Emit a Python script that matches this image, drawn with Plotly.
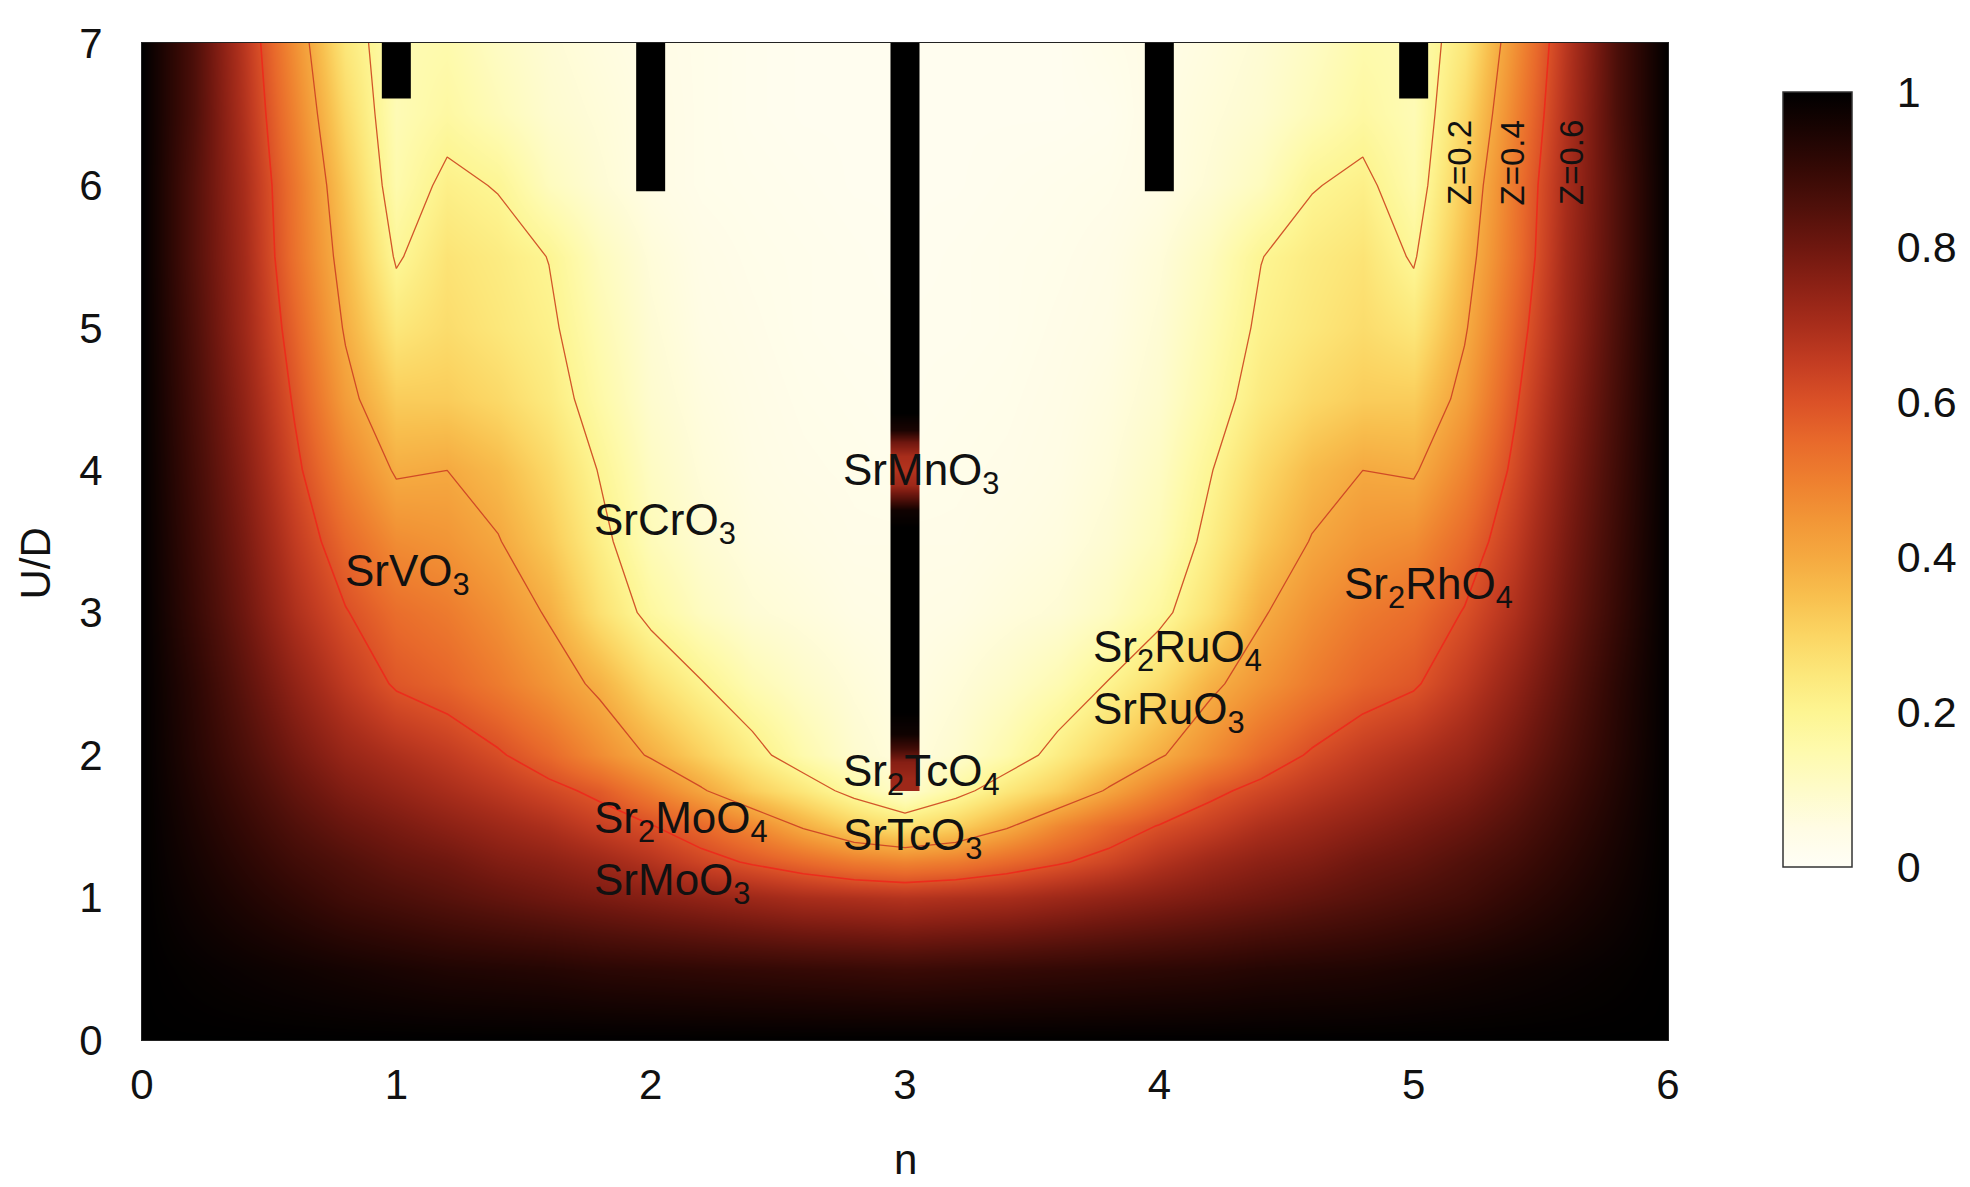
import plotly.graph_objects as go

# ---------------- data ----------------
n_vals = [0.0, 0.2, 0.4, 0.6, 0.8, 1.0, 1.2, 1.4, 1.6, 1.8, 2.0, 2.2, 2.4, 2.6, 2.8, 3.0,
          3.2, 3.4, 3.6, 3.8, 4.0, 4.2, 4.4, 4.6, 4.8, 5.0, 5.2, 5.4, 5.6, 5.8, 6.0]
U_vals = [0.0, 0.5, 1.0, 1.25, 1.5, 1.75, 2.0, 2.5, 3.0, 3.5, 4.0, 4.5, 5.0, 5.5, 6.0, 6.5, 7.0]

Z_U0_0 = [1.00, 1.00, 1.00, 1.00, 1.00, 1.00, 1.00, 1.00, 1.00, 1.00, 1.00, 1.00, 1.00, 1.00, 1.00, 1.00,
          1.00, 1.00, 1.00, 1.00, 1.00, 1.00, 1.00, 1.00, 1.00, 1.00, 1.00, 1.00, 1.00, 1.00, 1.00]
Z_U0_5 = [1.00, 0.99, 0.98, 0.97, 0.96, 0.95, 0.94, 0.935, 0.93, 0.92, 0.915, 0.91, 0.905, 0.90, 0.895, 0.89,
          0.895, 0.90, 0.905, 0.91, 0.915, 0.92, 0.93, 0.935, 0.94, 0.95, 0.96, 0.97, 0.98, 0.99, 1.00]
Z_U1_0 = [1.00, 0.97, 0.94, 0.91, 0.88, 0.86, 0.84, 0.82, 0.80, 0.78, 0.76, 0.74, 0.72, 0.70, 0.69, 0.68,
          0.69, 0.70, 0.72, 0.74, 0.76, 0.78, 0.80, 0.82, 0.84, 0.86, 0.88, 0.91, 0.94, 0.97, 1.00]
Z_U1_25 = [1.00, 0.96, 0.92, 0.88, 0.85, 0.82, 0.80, 0.77, 0.75, 0.72, 0.68, 0.63, 0.59, 0.55, 0.51, 0.49,
           0.51, 0.55, 0.59, 0.63, 0.68, 0.72, 0.75, 0.77, 0.80, 0.82, 0.85, 0.88, 0.92, 0.96, 1.00]
Z_U1_5 = [1.00, 0.95, 0.90, 0.85, 0.81, 0.78, 0.75, 0.72, 0.69, 0.645, 0.605, 0.55, 0.48, 0.39, 0.31, 0.265,
          0.31, 0.39, 0.48, 0.55, 0.605, 0.645, 0.69, 0.72, 0.75, 0.78, 0.81, 0.85, 0.90, 0.95, 1.00]
Z_U1_75 = [1.00, 0.94, 0.88, 0.82, 0.77, 0.735, 0.70, 0.665, 0.625, 0.58, 0.50, 0.41, 0.32, 0.25, 0.17, 0.09,
           0.17, 0.25, 0.32, 0.41, 0.50, 0.58, 0.625, 0.665, 0.70, 0.735, 0.77, 0.82, 0.88, 0.94, 1.00]
Z_U2_0 = [1.00, 0.93, 0.86, 0.79, 0.73, 0.69, 0.655, 0.61, 0.55, 0.47, 0.39, 0.31, 0.23, 0.15, 0.09, 0.06,
          0.09, 0.15, 0.23, 0.31, 0.39, 0.47, 0.55, 0.61, 0.655, 0.69, 0.73, 0.79, 0.86, 0.93, 1.00]
Z_U2_5 = [1.00, 0.92, 0.83, 0.74, 0.66, 0.59, 0.56, 0.51, 0.45, 0.38, 0.28, 0.205, 0.14, 0.10, 0.07, 0.05,
          0.07, 0.10, 0.14, 0.205, 0.28, 0.38, 0.45, 0.51, 0.56, 0.59, 0.66, 0.74, 0.83, 0.92, 1.00]
Z_U3_0 = [1.00, 0.90, 0.80, 0.69, 0.605, 0.54, 0.51, 0.46, 0.39, 0.27, 0.175, 0.115, 0.08, 0.065, 0.05, 0.045,
          0.05, 0.065, 0.08, 0.115, 0.175, 0.27, 0.39, 0.46, 0.51, 0.54, 0.605, 0.69, 0.80, 0.90, 1.00]
Z_U3_5 = [1.00, 0.89, 0.78, 0.655, 0.55, 0.47, 0.45, 0.405, 0.33, 0.225, 0.13, 0.085, 0.06, 0.05, 0.04, 0.04,
          0.04, 0.05, 0.06, 0.085, 0.13, 0.225, 0.33, 0.405, 0.45, 0.47, 0.55, 0.655, 0.78, 0.89, 1.00]
Z_U4_0 = [1.00, 0.88, 0.76, 0.62, 0.49, 0.39, 0.40, 0.36, 0.29, 0.195, 0.11, 0.07, 0.05, 0.04, 0.035, 0.03,
          0.035, 0.04, 0.05, 0.07, 0.11, 0.195, 0.29, 0.36, 0.40, 0.39, 0.49, 0.62, 0.76, 0.88, 1.00]
Z_U4_5 = [1.00, 0.87, 0.74, 0.59, 0.43, 0.32, 0.32, 0.29, 0.24, 0.16, 0.09, 0.06, 0.045, 0.035, 0.03, 0.025,
          0.03, 0.035, 0.045, 0.06, 0.09, 0.16, 0.24, 0.29, 0.32, 0.32, 0.43, 0.59, 0.74, 0.87, 1.00]
Z_U5_0 = [1.00, 0.86, 0.72, 0.56, 0.39, 0.25, 0.28, 0.25, 0.215, 0.14, 0.08, 0.05, 0.04, 0.03, 0.025, 0.025,
          0.025, 0.03, 0.04, 0.05, 0.08, 0.14, 0.215, 0.25, 0.28, 0.25, 0.39, 0.56, 0.72, 0.86, 1.00]
Z_U5_5 = [1.00, 0.85, 0.71, 0.53, 0.36, 0.19, 0.26, 0.235, 0.198, 0.12, 0.07, 0.045, 0.035, 0.03, 0.025, 0.02,
          0.025, 0.03, 0.035, 0.045, 0.07, 0.12, 0.198, 0.235, 0.26, 0.19, 0.36, 0.53, 0.71, 0.85, 1.00]
Z_U6_0 = [1.00, 0.85, 0.70, 0.52, 0.33, 0.15, 0.22, 0.195, 0.12, 0.08, 0.05, 0.035, 0.03, 0.025, 0.02, 0.02,
          0.02, 0.025, 0.03, 0.035, 0.05, 0.08, 0.12, 0.195, 0.22, 0.15, 0.33, 0.52, 0.70, 0.85, 1.00]
Z_U6_5 = [1.00, 0.86, 0.685, 0.49, 0.29, 0.135, 0.17, 0.13, 0.09, 0.07, 0.05, 0.035, 0.025, 0.02, 0.02, 0.02,
          0.02, 0.02, 0.02, 0.025, 0.05, 0.07, 0.09, 0.13, 0.17, 0.135, 0.29, 0.49, 0.685, 0.86, 1.00]
Z_U7_0 = [1.00, 0.86, 0.67, 0.46, 0.25, 0.14, 0.15, 0.11, 0.08, 0.06, 0.045, 0.035, 0.025, 0.02, 0.02, 0.02,
          0.02, 0.02, 0.02, 0.035, 0.045, 0.06, 0.08, 0.11, 0.15, 0.14, 0.25, 0.46, 0.67, 0.86, 1.00]

# insulating (Mott) regions at integer fillings
ins_n = [1, 2, 4, 5]
ins_bottom = [6.61, 5.96, 5.96, 6.61]
# n = 3 column, Z along U (bar drawn with the same colour map)
bar3_n = 3
bar3_U = [1.78, 1.84, 1.95, 2.05, 2.15, 2.3, 3.6, 3.72, 3.8, 3.9, 4.0, 4.1, 4.2, 4.28, 4.4, 6.98]
bar3_Z = [0.72, 0.72, 0.76, 0.88, 0.97, 1.0, 1.0, 0.97, 0.85, 0.72, 0.68, 0.70, 0.80, 0.95, 1.0, 1.0]

contour_levels = [0.2, 0.4, 0.6]
cbar_ticks = [0, 0.2, 0.4, 0.6, 0.8, 1]
x_ticks = [0, 1, 2, 3, 4, 5, 6]
y_ticks = [0, 1, 2, 3, 4, 5, 6, 7]

compounds = [
    ("SrVO<sub>3</sub>", 0.79, 3.27),
    ("SrCrO<sub>3</sub>", 1.77, 3.63),
    ("SrMnO<sub>3</sub>", 2.75, 3.98),
    ("Sr<sub>2</sub>TcO<sub>4</sub>", 2.75, 1.87),
    ("SrTcO<sub>3</sub>", 2.75, 1.42),
    ("Sr<sub>2</sub>MoO<sub>4</sub>", 1.77, 1.54),
    ("SrMoO<sub>3</sub>", 1.77, 1.10),
    ("Sr<sub>2</sub>RuO<sub>4</sub>", 3.73, 2.74),
    ("SrRuO<sub>3</sub>", 3.73, 2.30),
    ("Sr<sub>2</sub>RhO<sub>4</sub>", 4.72, 3.18),
]
z_labels = [("Z=0.2", 5.18, 6.16), ("Z=0.4", 5.39, 6.16), ("Z=0.6", 5.62, 6.16)]

# ---------------- styling ----------------
Z = [Z_U0_0, Z_U0_5, Z_U1_0, Z_U1_25, Z_U1_5, Z_U1_75, Z_U2_0, Z_U2_5, Z_U3_0,
     Z_U3_5, Z_U4_0, Z_U4_5, Z_U5_0, Z_U5_5, Z_U6_0, Z_U6_5, Z_U7_0]

cscale = [
    [0.00, '#fffef6'], [0.05, '#fffce4'], [0.10, '#fefbc9'], [0.15, '#fefaad'],
    [0.20, '#fdf592'], [0.25, '#fce77a'], [0.30, '#fbd563'], [0.35, '#f8bf4e'],
    [0.40, '#f5a940'], [0.45, '#f29536'], [0.50, '#ee7f2f'], [0.55, '#e8692b'],
    [0.60, '#db5127'], [0.65, '#c43d22'], [0.70, '#a82d1b'], [0.75, '#8c2115'],
    [0.80, '#6e170f'], [0.85, '#50100a'], [0.90, '#350905'], [0.95, '#1a0402'],
    [1.00, '#000000'],
]
FONT = "Liberation Sans, Arial, Helvetica, sans-serif"
BAR_W = 0.114
U_MAX = 7.0
W, H = 1962, 1179          # page body margin of 8px takes the rest of the window
ML, MT, PW, PH = 134, 26, 1527, 1006

fig = go.Figure()

cb_x = (1776 - ML) / PW
cb_th = 69
bar_bot, bar_top = 0.172, 0.940      # where the colour bar should sit (paper)

fig.add_trace(go.Heatmap(
    x=n_vals, y=U_vals, z=Z, zmin=0, zmax=1, colorscale=cscale, zsmooth='best',
    hoverinfo='skip',
    colorbar=dict(
        x=cb_x, xanchor='left', xpad=0, ypad=0,
        y=bar_bot + 0.002, yanchor='bottom', len=bar_top - bar_bot + 0.009, lenmode='fraction',
        thickness=cb_th, thicknessmode='pixels',
        outlinewidth=1.5, outlinecolor='#333333',
        tickvals=cbar_ticks, ticks='outside', ticklen=36,
        tickcolor='rgba(0,0,0,0)',
        tickfont=dict(family=FONT, size=43, color='#111111'),
    ),
))

line_cols = {0.2: '#d2562a', 0.4: '#d04a26', 0.6: '#ec2c1c'}
line_w = {0.2: 1.3, 0.4: 1.3, 0.6: 1.6}
for lev in contour_levels:
    fig.add_trace(go.Contour(
        x=n_vals, y=U_vals, z=Z, showscale=False, hoverinfo='skip',
        contours=dict(start=lev, end=lev, size=0.2, coloring='none'),
        line=dict(color=line_cols[lev], width=line_w[lev], smoothing=0),
    ))

fig.add_trace(go.Bar(
    x=ins_n, base=ins_bottom, y=[U_MAX - b for b in ins_bottom], width=BAR_W,
    marker=dict(color='black', line=dict(width=0)), hoverinfo='skip', showlegend=False,
))

fig.add_trace(go.Heatmap(
    x=[bar3_n - BAR_W / 2, bar3_n + BAR_W / 2], y=bar3_U, z=[[v] for v in bar3_Z],
    zmin=0, zmax=1, colorscale=cscale, zsmooth='best', showscale=False, hoverinfo='skip',
))

annotations = []
for txt, xn, yu in compounds:
    annotations.append(dict(x=xn, y=yu, xref='x', yref='y', text=txt, showarrow=False,
                            xanchor='left', yanchor='middle',
                            font=dict(family=FONT, size=44, color='#111111')))
for txt, xn, yu in z_labels:
    annotations.append(dict(x=xn, y=yu, xref='x', yref='y', text=txt, showarrow=False,
                            textangle=-90, xanchor='center', yanchor='middle',
                            font=dict(family=FONT, size=33, color='#111111')))
annotations.append(dict(x=0.5, y=-0.120, xref='paper', yref='paper', text='n', showarrow=False,
                        xanchor='center', yanchor='middle', borderpad=0,
                        font=dict(family=FONT, size=42, color='#111111')))
annotations.append(dict(x=-0.070, y=0.478, xref='paper', yref='paper', text='U/D', showarrow=False,
                        textangle=-90, xanchor='center', yanchor='middle',
                        font=dict(family=FONT, size=42, color='#111111')))

# inside tick dashes on both sides of the colour bar
shapes = []
cb_left, cb_right = cb_x, cb_x + cb_th / PW
dash = 14 / PW
for v in cbar_ticks[1:-1]:
    yy = bar_bot + v * (bar_top - bar_bot)
    shapes.append(dict(type='line', xref='paper', yref='paper', x0=cb_left, x1=cb_left + dash,
                       y0=yy, y1=yy, line=dict(color='#111111', width=1.5)))
    shapes.append(dict(type='line', xref='paper', yref='paper', x0=cb_right - dash, x1=cb_right,
                       y0=yy, y1=yy, line=dict(color='#111111', width=1.5)))

fig.update_layout(
    width=W, height=H,
    margin=dict(l=ML, r=W - ML - PW, t=MT, b=H - MT - PH),
    paper_bgcolor='white', plot_bgcolor='white',
    showlegend=False,
    annotations=annotations, shapes=shapes,
    xaxis=dict(range=[0, 6], tickvals=x_ticks, showgrid=False, zeroline=False,
               showline=True, mirror=True, linecolor='#222222', linewidth=1,
               ticks='outside', ticklen=8, tickcolor='rgba(0,0,0,0)',
               tickfont=dict(family=FONT, size=42, color='#111111')),
    yaxis=dict(range=[0, 7], tickvals=y_ticks, showgrid=False, zeroline=False,
               showline=True, mirror=True, linecolor='#222222', linewidth=1,
               ticks='outside', ticklen=30, tickcolor='rgba(0,0,0,0)',
               tickfont=dict(family=FONT, size=42, color='#111111')),
)

fig.write_html("out.html")
